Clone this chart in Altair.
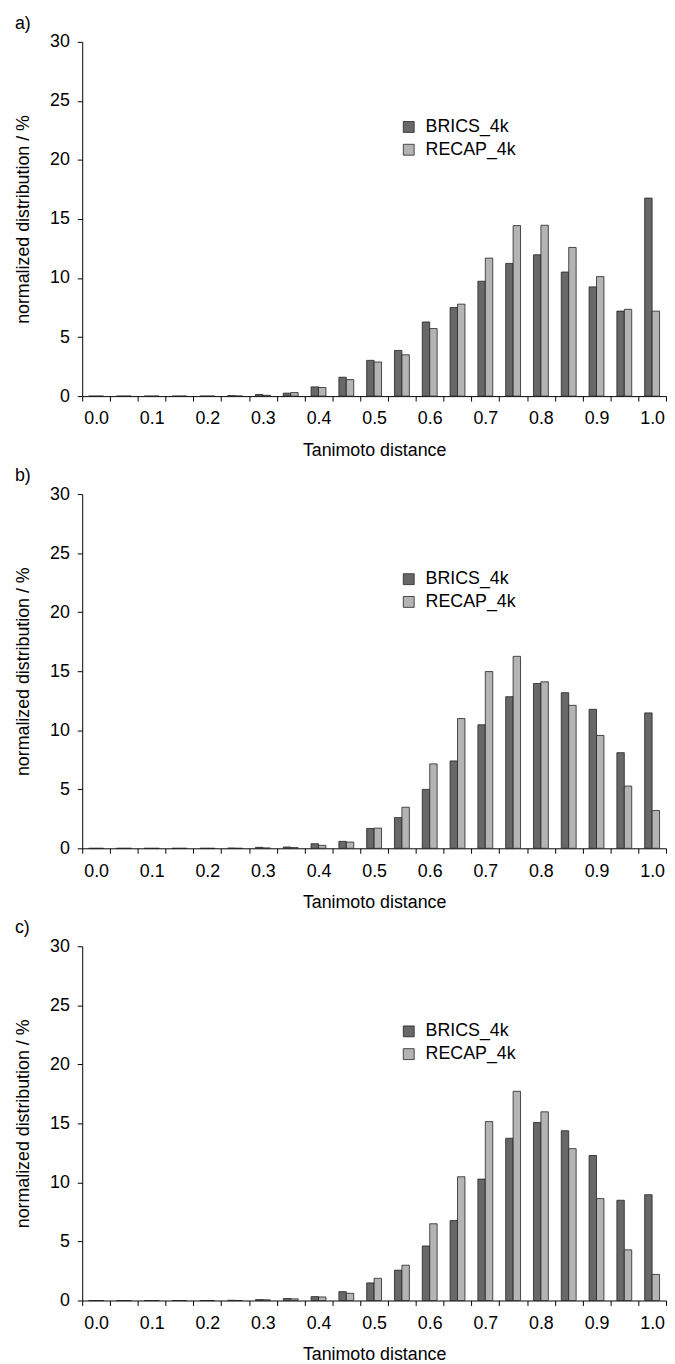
import json
import altair as alt
import pandas as pd

# ---------------- data ----------------
bins = ["0.0", "0.05", "0.1", "0.15", "0.2", "0.25", "0.3", "0.35", "0.4", "0.45",
        "0.5", "0.55", "0.6", "0.65", "0.7", "0.75", "0.8", "0.85", "0.9", "0.95", "1.0"]
tick_labels = ["0.0", "0.1", "0.2", "0.3", "0.4", "0.5", "0.6", "0.7", "0.8", "0.9", "1.0"]
series = ["BRICS_4k", "RECAP_4k"]
panel_labels = ["a)", "b)", "c)"]

brics_a = [0, 0, 0, 0, 0, 0.04, 0.14, 0.25, 0.78, 1.6, 3.03, 3.87, 6.28, 7.51, 9.73,
           11.24, 11.97, 10.51, 9.25, 7.2, 16.77]
recap_a = [0, 0, 0, 0, 0, 0.01, 0.07, 0.3, 0.73, 1.4, 2.89, 3.5, 5.72, 7.79, 11.69,
           14.44, 14.47, 12.59, 10.12, 7.35, 7.2]

brics_b = [0, 0, 0, 0, 0, 0.02, 0.08, 0.11, 0.39, 0.59, 1.68, 2.6, 4.99, 7.4, 10.46,
           12.84, 13.96, 13.18, 11.77, 8.1, 11.47]
recap_b = [0, 0, 0, 0, 0, 0.0, 0.03, 0.06, 0.25, 0.53, 1.71, 3.48, 7.15, 10.99, 14.97,
           16.26, 14.1, 12.11, 9.56, 5.27, 3.2]

brics_c = [0, 0, 0, 0, 0, 0.02, 0.08, 0.17, 0.33, 0.75, 1.49, 2.57, 4.62, 6.77, 10.28,
           13.74, 15.07, 14.38, 12.28, 8.49, 8.96]
recap_c = [0, 0, 0, 0, 0, 0.0, 0.06, 0.14, 0.3, 0.61, 1.88, 2.99, 6.5, 10.48, 15.15,
           17.72, 15.98, 12.86, 8.63, 4.29, 2.21]

panels = [(brics_a, recap_a), (brics_b, recap_b), (brics_c, recap_c)]

# ---------------- style ----------------
FONT = "Liberation Sans"
DARK = "#686868"
LIGHT = "#b4b4b4"

label_expr = "indexof(" + json.dumps(tick_labels) + ", datum.label) >= 0 ? datum.label : ''"


def make_panel(label, brics, recap):
    df = pd.DataFrame({
        "bin": bins * 2,
        "series": [series[0]] * len(bins) + [series[1]] * len(bins),
        "value": list(brics) + list(recap),
    })
    return (
        alt.Chart(df)
        .mark_bar(stroke="#222222", strokeWidth=0.8)
        .encode(
            x=alt.X(
                "bin:N",
                sort=bins,
                scale=alt.Scale(paddingInner=0, paddingOuter=0),
                axis=alt.Axis(
                    title="Tanimoto distance",
                    labelAngle=0,
                    tickBand="extent",
                    labelExpr=label_expr,
                    labelPadding=9,
                    titlePadding=14,
                ),
            ),
            xOffset=alt.XOffset(
                "series:N", sort=series,
                scale=alt.Scale(paddingOuter=0.87, paddingInner=0),
            ),
            y=alt.Y(
                "value:Q",
                scale=alt.Scale(domain=[0, 30], nice=False),
                axis=alt.Axis(
                    title="normalized distribution / %",
                    values=[0, 5, 10, 15, 20, 25, 30],
                    labelPadding=8,
                    titlePadding=17,
                ),
            ),
            color=alt.Color(
                "series:N",
                sort=series,
                scale=alt.Scale(domain=series, range=[DARK, LIGHT]),
                legend=alt.Legend(
                    title=None,
                    orient="none",
                    legendX=321,
                    legendY=77,
                    padding=0,
                    symbolType="square",
                    symbolSize=121,
                    symbolStrokeColor="#222222",
                    symbolStrokeWidth=0.8,
                    labelFontSize=18,
                    labelFont=FONT,
                    labelColor="black",
                    labelOffset=8,
                    rowPadding=5,
                ),
            ),
        )
        .properties(
            width=590,
            height=358,
            title=alt.TitleParams(
                label, anchor="start", frame="bounds", fontSize=18,
                fontWeight="normal", font=FONT, color="black", offset=0,
            ),
        )
    )


charts = [make_panel(lbl, b, r) for lbl, (b, r) in zip(panel_labels, panels)]

chart = (
    alt.vconcat(*charts, spacing=8)
    .resolve_legend(color="independent")
    .resolve_scale(color="independent")
    .properties(padding={"left": 6, "top": 0, "right": 0, "bottom": 0})
    .configure(font=FONT)
    .configure_view(stroke=None)
    .configure_axis(
        grid=False,
        domainColor="black",
        domainWidth=1,
        tickColor="black",
        tickSize=5,
        labelColor="black",
        titleColor="black",
        labelFontSize=18,
        titleFontSize=18,
        titleFontWeight="normal",
        labelFont=FONT,
        titleFont=FONT,
    )
)

chart.save("out.html", embed_options={"renderer": "svg", "actions": False})
